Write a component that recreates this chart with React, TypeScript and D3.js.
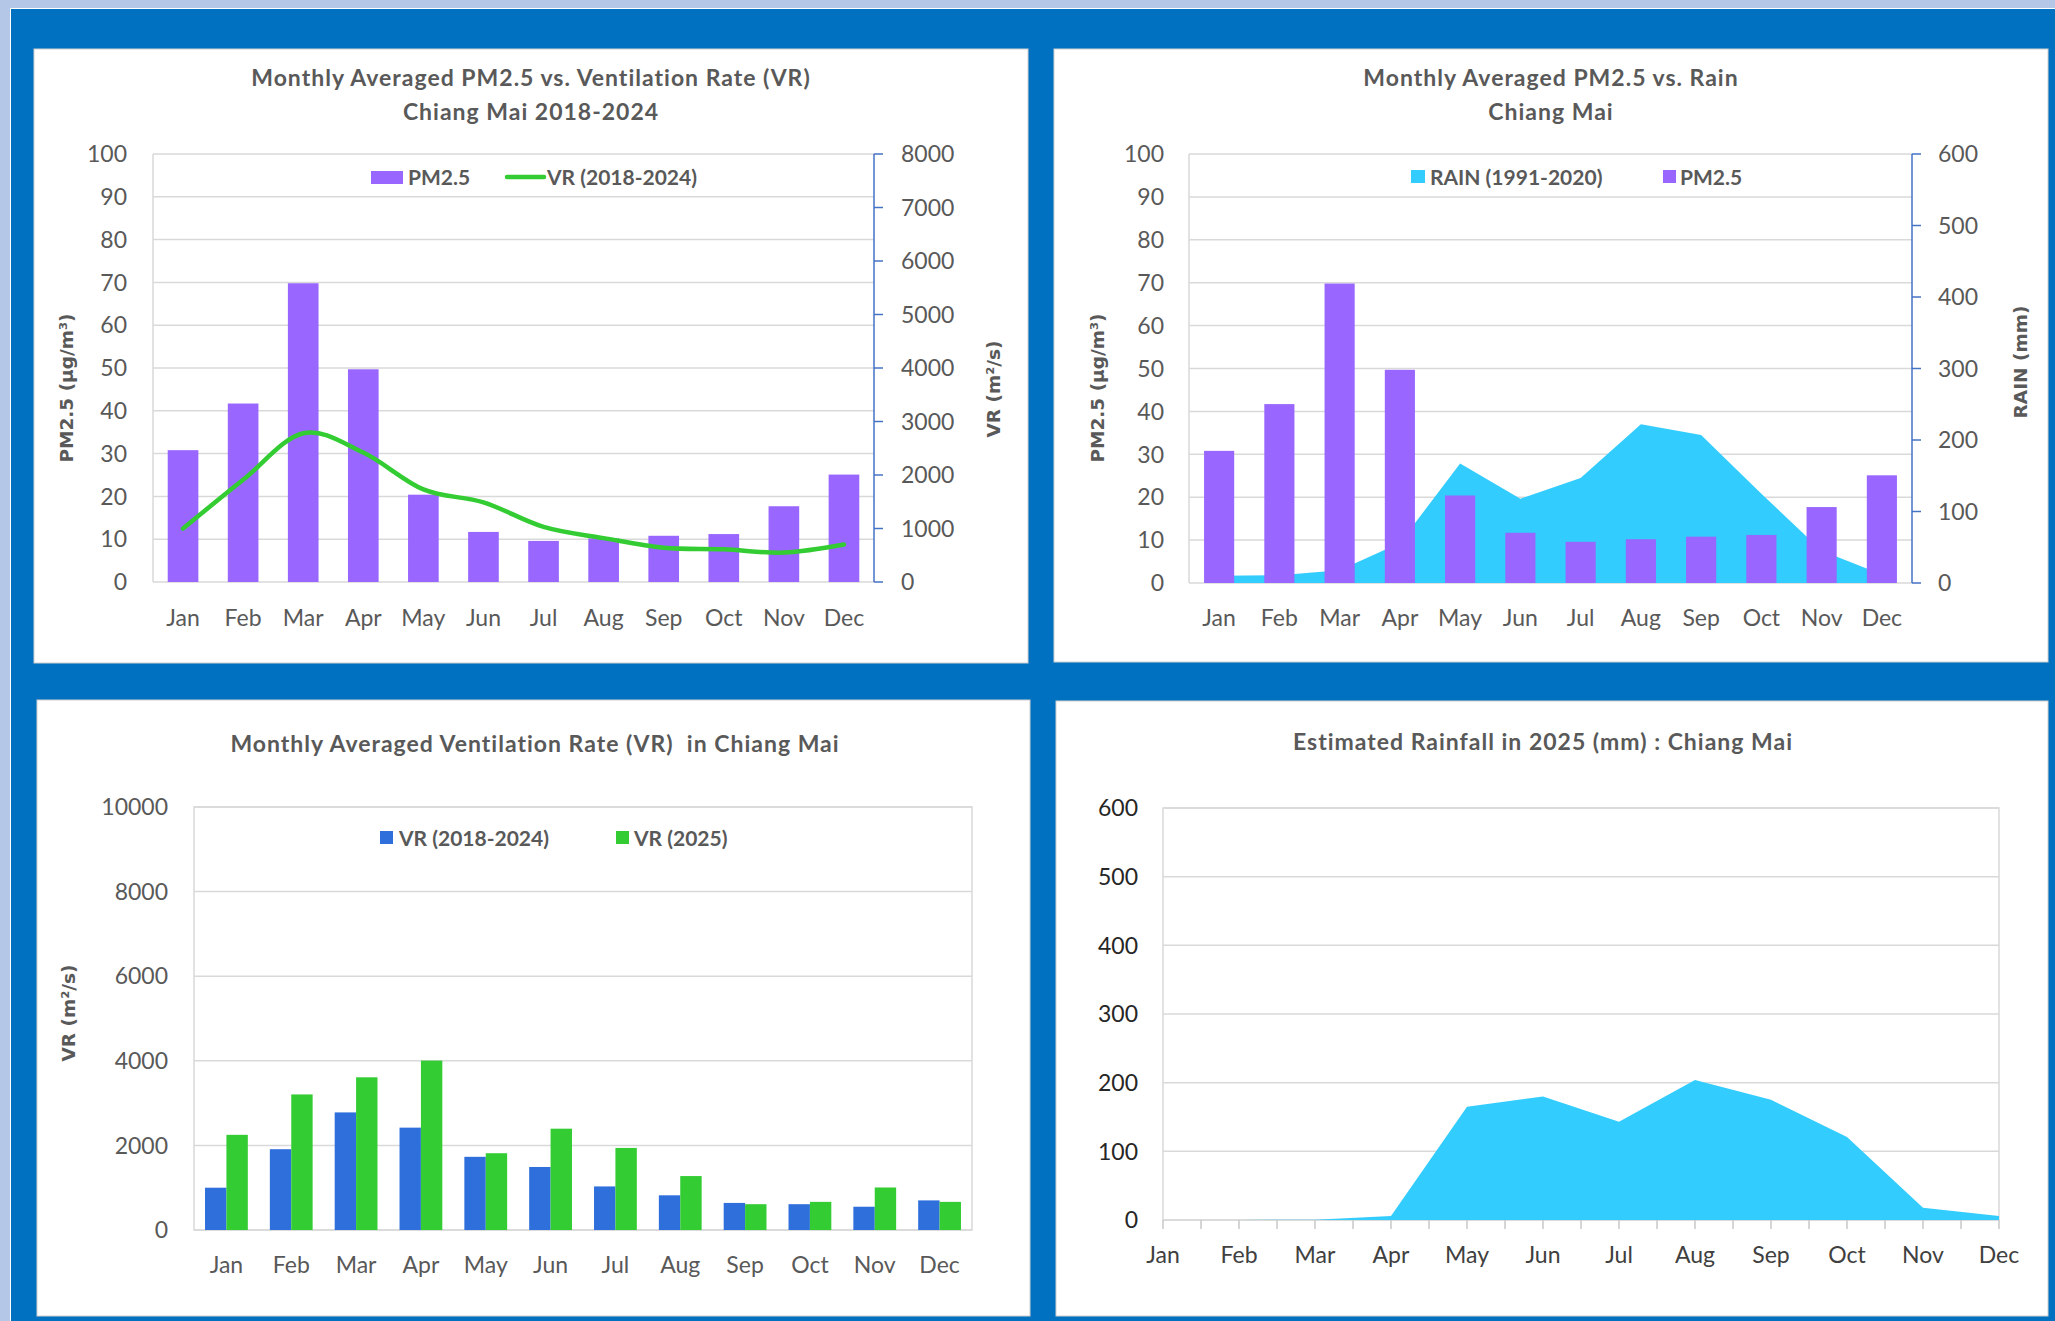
import React from "react";
import * as d3 from "d3";

// values
const months = ["Jan", "Feb", "Mar", "Apr", "May", "Jun", "Jul", "Aug", "Sep", "Oct", "Nov", "Dec"];
const pm25 = [30.8, 41.7, 69.8, 49.7, 20.4, 11.7, 9.6, 10.2, 10.8, 11.2, 17.7, 25.1];
const vr2018_2024 = [1000, 1910, 2780, 2420, 1730, 1490, 1030, 820, 640, 610, 550, 700];
const vr2025 = [2250, 3205, 3610, 4005, 1815, 2395, 1940, 1275, 610, 665, 1005, 665];
const rainNormal = [10, 11, 18, 56, 167, 118, 147, 222, 207, 125, 45, 12];
const rain2025 = [0, 0, 0.5, 6, 165, 180, 143, 204, 175, 121, 18, 6];

const pmTicks = d3.range(0, 101, 10);
const vrTicks = d3.range(0, 8001, 1000);
const rainTicks = d3.range(0, 601, 100);
const vr3Ticks = d3.range(0, 10001, 2000);

const CAL = "Lato, 'Open Sans', sans-serif";
const VERD = "'DejaVu Sans', Verdana, sans-serif";
const GRAY = "#595959";
const GRID = "#d9d9d9";
const PURPLE = "#9966ff";
const GREEN = "#33cc33";
const CYAN = "#33ccff";
const BLUE = "#2e6fdc";
const AXBLUE = "#4472c4";

function Panel({ x, y, w, h }) {
  return <rect x={x} y={y} width={w} height={h} fill="#fff" stroke="#cfcfcf" strokeWidth={1} />;
}

function Title({ x, y, lines }) {
  return (
    <text
      x={x}
      textAnchor="middle"
      fill={GRAY}
      fontFamily={CAL}
      fontWeight="bold"
      fontSize={23}
      letterSpacing={1}
      style={{ whiteSpace: "pre" }}
    >
      {lines.map((l, i) => (
        <tspan key={i} x={x} y={y + i * 34}>
          {l}
        </tspan>
      ))}
    </text>
  );
}

function Grid({ scale, ticks, x0, x1 }) {
  return (
    <g>
      {ticks.map(t => (
        <line key={t} x1={x0} x2={x1} y1={scale(t)} y2={scale(t)} stroke={GRID} strokeWidth={1.5} />
      ))}
    </g>
  );
}

function TickLabels({ scale, ticks, x, anchor, fill = GRAY }) {
  return (
    <g fontFamily={CAL} fontSize={23} fill={fill} textAnchor={anchor}>
      {ticks.map(t => (
        <text key={t} x={x} y={scale(t)} dy="0.36em">
          {t}
        </text>
      ))}
    </g>
  );
}

function MonthLabels({ xOf, y, fill = GRAY }) {
  return (
    <g fontFamily={CAL} fontSize={23} fill={fill} textAnchor="middle">
      {months.map(m => (
        <text key={m} x={xOf(m)} y={y} dy="0.36em">
          {m}
        </text>
      ))}
    </g>
  );
}

function AxisTitle({ x, y, label }) {
  return (
    <text
      transform={`translate(${x},${y}) rotate(-90)`}
      textAnchor="middle"
      dy="0.36em"
      fill={GRAY}
      fontFamily={VERD}
      fontWeight="bold"
      fontSize={18.5}
    >
      {label}
    </text>
  );
}

function LegendText({ x, y, label }) {
  return (
    <text x={x} y={y} dy="0.36em" fill={GRAY} fontFamily={CAL} fontWeight="bold" fontSize={21}>
      {label}
    </text>
  );
}

function RightAxis({ scale, ticks, x, top, bottom }) {
  return (
    <g stroke={AXBLUE} strokeWidth={1.5}>
      <line x1={x} x2={x} y1={top} y2={bottom} />
      {ticks.map(t => (
        <line key={t} x1={x} x2={x + 9} y1={scale(t)} y2={scale(t)} />
      ))}
    </g>
  );
}

// chart 1: PM2.5 bars + smoothed VR line
function ChartPmVr() {
  const L = 153, R = 874, T = 154, B = 582;
  const x = d3.scaleBand().domain(months).range([L, R]);
  const y = d3.scaleLinear().domain([0, 100]).range([B, T]);
  const yr = d3.scaleLinear().domain([0, 8000]).range([B, T]);
  const bw = x.bandwidth() * 0.51;
  const cx = m => x(m) + x.bandwidth() / 2;
  const line = d3
    .line()
    .x((d, i) => cx(months[i]))
    .y(d => yr(d))
    .curve(d3.curveCardinal.tension(0));
  return (
    <g>
      <Panel x={34} y={49} w={994} h={614} />
      <Title x={531} y={86} lines={["Monthly Averaged PM2.5 vs. Ventilation Rate (VR)", "Chiang Mai 2018-2024"]} />
      <Grid scale={y} ticks={pmTicks} x0={L} x1={R} />
      <line x1={L} x2={L} y1={T} y2={B} stroke={GRID} strokeWidth={1.5} />
      {pm25.map((v, i) => (
        <rect key={i} x={cx(months[i]) - bw / 2} y={y(v)} width={bw} height={B - y(v)} fill={PURPLE} />
      ))}
      <path d={line(vr2018_2024)} fill="none" stroke={GREEN} strokeWidth={4.5} strokeLinecap="round" />
      <RightAxis scale={yr} ticks={vrTicks} x={R} top={T} bottom={B} />
      <TickLabels scale={y} ticks={pmTicks} x={127} anchor="end" />
      <TickLabels scale={yr} ticks={vrTicks} x={901} anchor="start" />
      <MonthLabels xOf={cx} y={618} />
      <AxisTitle x={66} y={388} label="PM2.5 (µg/m³)" />
      <AxisTitle x={993} y={389} label="VR (m²/s)" />
      <rect x={371} y={171} width={32} height={13} fill={PURPLE} />
      <LegendText x={408} y={177} label="PM2.5" />
      <line x1={507} x2={544} y1={177} y2={177} stroke={GREEN} strokeWidth={4.5} strokeLinecap="round" />
      <LegendText x={547} y={177} label="VR (2018-2024)" />
    </g>
  );
}

// chart 2: PM2.5 bars over climatological rain area
function ChartPmRain() {
  const L = 1189, R = 1912, T = 154, B = 583;
  const x = d3.scaleBand().domain(months).range([L, R]);
  const y = d3.scaleLinear().domain([0, 100]).range([B, T]);
  const yr = d3.scaleLinear().domain([0, 600]).range([B, T]);
  const bw = x.bandwidth() * 0.5;
  const cx = m => x(m) + x.bandwidth() / 2;
  const area = d3
    .area()
    .x((d, i) => cx(months[i]))
    .y0(B)
    .y1(d => yr(d));
  return (
    <g>
      <Panel x={1054} y={49} w={994} h={613} />
      <Title x={1551} y={86} lines={["Monthly Averaged PM2.5 vs. Rain", "Chiang Mai"]} />
      <Grid scale={y} ticks={pmTicks} x0={L} x1={R} />
      <line x1={L} x2={L} y1={T} y2={B} stroke={GRID} strokeWidth={1.5} />
      <path d={area(rainNormal)} fill={CYAN} />
      {pm25.map((v, i) => (
        <rect key={i} x={cx(months[i]) - bw / 2} y={y(v)} width={bw} height={B - y(v)} fill={PURPLE} />
      ))}
      <RightAxis scale={yr} ticks={rainTicks} x={R} top={T} bottom={B} />
      <TickLabels scale={y} ticks={pmTicks} x={1164} anchor="end" />
      <TickLabels scale={yr} ticks={rainTicks} x={1938} anchor="start" />
      <MonthLabels xOf={cx} y={618} />
      <AxisTitle x={1097} y={388} label="PM2.5 (µg/m³)" />
      <AxisTitle x={2020} y={362} label="RAIN (mm)" />
      <rect x={1411} y={170} width={14} height={13} fill={CYAN} />
      <LegendText x={1430} y={177} label="RAIN (1991-2020)" />
      <rect x={1663} y={170} width={13} height={13} fill={PURPLE} />
      <LegendText x={1680} y={177} label="PM2.5" />
    </g>
  );
}

// chart 3: grouped VR bars
function ChartVr() {
  const L = 194, R = 972, T = 807, B = 1230;
  const x = d3.scaleBand().domain(months).range([L, R]);
  const y = d3.scaleLinear().domain([0, 10000]).range([B, T]);
  const gw = x.bandwidth() * 0.66;
  const bw = gw / 2;
  const cx = m => x(m) + x.bandwidth() / 2;
  const series = [
    { vals: vr2018_2024, color: BLUE },
    { vals: vr2025, color: GREEN }
  ];
  return (
    <g>
      <Panel x={37} y={700} w={993} h={616} />
      <Title x={535} y={752} lines={["Monthly Averaged Ventilation Rate (VR)\u00a0 in Chiang Mai"]} />
      <Grid scale={y} ticks={vr3Ticks} x0={L} x1={R} />
      <rect x={L} y={T} width={R - L} height={B - T} fill="none" stroke={GRID} strokeWidth={1.5} />
      {series.map((s, j) =>
        s.vals.map((v, i) => (
          <rect
            key={j + "-" + i}
            x={cx(months[i]) - gw / 2 + j * bw}
            y={y(v)}
            width={bw}
            height={B - y(v)}
            fill={s.color}
          />
        ))
      )}
      <TickLabels scale={y} ticks={vr3Ticks} x={168} anchor="end" />
      <MonthLabels xOf={cx} y={1265} />
      <AxisTitle x={68} y={1013} label="VR (m²/s)" />
      <rect x={380} y={831} width={13} height={13} fill={BLUE} />
      <LegendText x={399} y={838} label="VR (2018-2024)" />
      <rect x={616} y={831} width={13} height={13} fill={GREEN} />
      <LegendText x={634} y={838} label="VR (2025)" />
    </g>
  );
}

// chart 4: estimated rainfall area
function ChartRain2025() {
  const L = 1163, R = 1999, T = 808, B = 1220;
  const x = d3.scalePoint().domain(months).range([L, R]);
  const y = d3.scaleLinear().domain([0, 600]).range([B, T]);
  const area = d3
    .area()
    .x((d, i) => x(months[i]))
    .y0(B)
    .y1(d => y(d));
  const ticks = months.flatMap((m, i) =>
    i < months.length - 1 ? [x(m), (x(m) + x(months[i + 1])) / 2] : [x(m)]
  );
  return (
    <g>
      <Panel x={1056} y={701} w={992} h={615} />
      <Title x={1543} y={750} lines={["Estimated Rainfall in 2025 (mm) : Chiang Mai"]} />
      <Grid scale={y} ticks={rainTicks} x0={L} x1={R} />
      <rect x={L} y={T} width={R - L} height={B - T} fill="none" stroke={GRID} strokeWidth={1.5} />
      <path d={area(rain2025)} fill={CYAN} />
      {ticks.map((t, i) => (
        <line key={i} x1={t} x2={t} y1={B} y2={B + 9} stroke="#c8c8c8" strokeWidth={1.5} />
      ))}
      <TickLabels scale={y} ticks={rainTicks} x={1138} anchor="end" fill="#262626" />
      <MonthLabels xOf={m => x(m)} y={1255} fill="#404040" />
    </g>
  );
}

export default function App() {
  return (
    <svg
      width={2055}
      height={1321}
      style={{ position: "absolute", left: 0, top: 0, display: "block" }}
    >
      <rect x={0} y={0} width={2055} height={1321} fill="#b4c7e7" />
      <rect x={10} y={8} width={2045} height={1313} fill="#ffffff" />
      <rect x={11} y={9} width={2044} height={1312} fill="#0070c0" />
      <ChartPmVr />
      <ChartPmRain />
      <ChartVr />
      <ChartRain2025 />
    </svg>
  );
}
